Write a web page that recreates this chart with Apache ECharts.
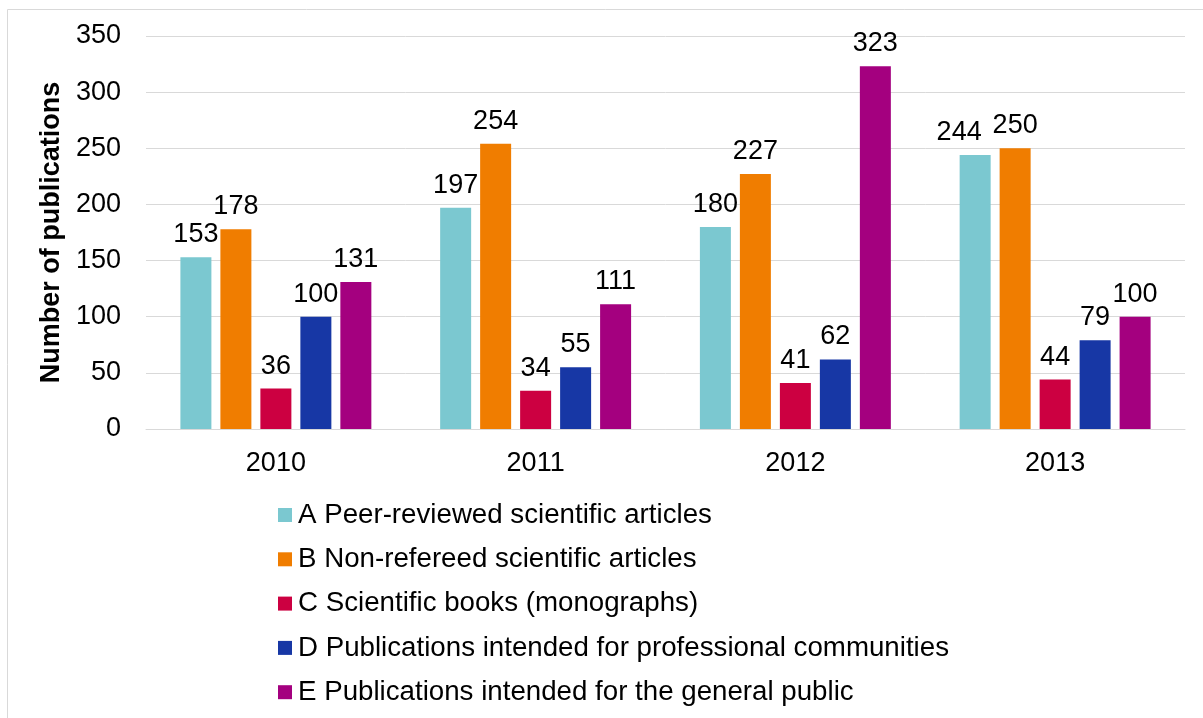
<!DOCTYPE html>
<html>
<head>
<meta charset="utf-8">
<script src="https://cdn.jsdelivr.net/npm/echarts@6/dist/echarts.min.js"></script>
<style>
  html, body { margin: 0; padding: 0; background: #fff; }
  #chart { width: 1203px; height: 718px; }
</style>
</head>
<body>
<div id="chart"></div>
<script>
const years = ['2010', '2011', '2012', '2013'];
const seriesNames = [
  'A Peer-reviewed scientific articles',
  'B Non-refereed scientific articles',
  'C Scientific books (monographs)',
  'D Publications intended for professional communities',
  'E Publications intended for the general public'
];
const peerReviewed = [153, 197, 180, 244];
const nonRefereed = [178, 254, 227, 250];
const books = [36, 34, 41, 44];
const professional = [100, 55, 62, 79];
const generalPublic = [131, 111, 323, 100];
const colors = ['#7BC8D0', '#F07D00', '#CC0041', '#1737A5', '#A4007F'];

const values = [peerReviewed, nonRefereed, books, professional, generalPublic];
const font = 'Arial, "Liberation Sans", sans-serif';
const fs = 27;

const chart = echarts.init(document.getElementById('chart'));

const series = values.map((v, i) => ({
  name: seriesNames[i],
  type: 'bar',
  // the 2013 label of series A is nudged left so it clears the 250 label
  data: v.map((y, j) => (i === 0 && j === 3) ? { value: y, label: { offset: [-16, 0] } } : y),
  barWidth: 31,
  barGap: '29%',
  itemStyle: { color: colors[i] },
  label: {
    show: true,
    position: 'top',
    distance: 9,
    color: '#000',
    fontSize: fs,
    fontFamily: font
  }
}));

const option = {
  animation: false,
  textStyle: { fontFamily: font },
  graphic: [{
    type: 'rect',
    shape: { x: 7.5, y: 9.5, width: 1220, height: 740 },
    style: { fill: 'none', stroke: '#d9d9d9', lineWidth: 1 },
    silent: true
  }],
  grid: { left: 146, right: 18, top: 36, height: 393 },
  xAxis: {
    type: 'category',
    data: years,
    axisTick: { show: false },
    axisLine: { lineStyle: { color: '#d9d9d9', width: 1 } },
    axisLabel: { color: '#000', fontSize: fs, margin: 21, fontFamily: font }
  },
  yAxis: {
    type: 'value',
    min: 0,
    max: 350,
    interval: 50,
    name: 'Number of publications',
    nameLocation: 'middle',
    nameGap: 78,
    nameTextStyle: { color: '#000', fontSize: fs, fontWeight: 'bold', fontFamily: font },
    axisLine: { show: false },
    axisTick: { show: false },
    axisLabel: { color: '#000', fontSize: fs, margin: 25, fontFamily: font },
    splitLine: { lineStyle: { color: '#d9d9d9', width: 1 } }
  },
  legend: {
    orient: 'vertical',
    left: 278,
    top: 501,
    padding: 0,
    itemWidth: 14,
    itemHeight: 14,
    itemGap: 16.3,
    icon: 'rect',
    textStyle: { color: '#000', fontSize: 27.7, fontFamily: font, padding: [0, 0, 0, 1] },
    data: seriesNames
  },
  series: series
};

chart.setOption(option);
</script>
</body>
</html>
